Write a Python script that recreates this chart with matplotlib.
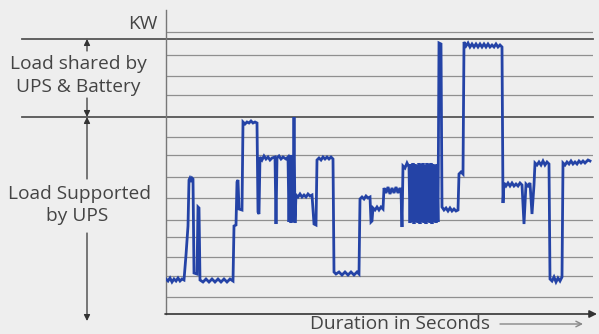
import matplotlib
matplotlib.use("Agg")
import matplotlib.pyplot as plt

# load trace: time (s) vs load (KW, arbitrary units)
t = [0, 2, 4, 6, 8, 10, 12, 14, 16, 18, 20, 22, 23, 24, 25, 26, 27, 28, 31, 32, 33, 34,
     37, 40, 43, 46, 49, 52, 55, 58, 61, 64, 67, 68, 70, 71, 72, 73, 76, 77, 79, 81, 83,
     85, 87, 89, 91, 92, 93, 94, 96, 98, 100, 102, 104, 106, 109, 110, 111, 113, 115, 117,
     120, 122, 123, 124, 125, 126, 127, 128, 129, 130, 132, 134, 136, 138, 140, 142, 144,
     146, 148, 150, 151, 153, 155, 157, 159, 161, 163, 165, 167, 168, 170, 173, 176, 179,
     182, 185, 188, 191, 193, 194, 196, 198, 200, 202, 204, 205, 206, 207, 209, 211, 213,
     215, 217, 218, 220, 222, 224, 226, 228, 230, 232, 234, 235, 236, 237, 239, 241, 243,
     244, 245, 246, 247, 248, 249, 250, 251, 252, 253, 254, 255, 256, 257, 258, 259, 260,
     261, 262, 263, 264, 265, 266, 267, 268, 269, 270, 271, 272,
     273, 275, 276, 278, 280, 282, 284, 286, 288, 290, 292, 293, 295, 297, 298, 300, 302,
     304, 306, 308, 310, 312, 314, 316, 318, 320, 322, 324, 326, 328, 330, 332, 334, 336,
     337, 338, 340, 342, 344, 346, 348, 350, 352, 354, 356, 358, 360, 362, 364, 366, 368,
     369, 371, 373, 375, 377, 379, 381, 383, 384, 386, 388, 390, 392, 394, 396, 397, 399,
     401, 403, 405, 407, 409, 411, 413, 415, 417, 419, 422, 424]
kw = [35, 33, 36, 32, 35, 33, 36, 33, 35, 34, 59, 88, 134, 136, 134, 136, 135, 41, 40, 107, 106, 34,
      32, 35, 32, 35, 32, 35, 32, 35, 32, 35, 33, 88, 89, 132, 134, 105, 104, 192, 190, 192, 191,
      193, 191, 192, 191, 102, 100, 157, 154, 158, 155, 157, 154, 156, 157, 90, 156, 158, 155, 157,
      155, 157, 92, 159, 91, 159, 92, 197, 91, 119, 117, 120, 117, 119, 117, 120, 118,
      119, 90, 89, 154, 156, 154, 157, 155, 157, 155, 157, 155, 42, 40, 42, 39, 42,
      39, 42, 39, 42, 40, 115, 117, 115, 118, 116, 117, 92, 93, 106, 104, 107, 104,
      107, 105, 126, 121, 127, 120, 126, 121, 127, 121, 126, 123, 87, 148, 146, 151, 147,
      91, 150, 92, 151, 90, 150, 92, 149, 91, 151, 90, 150, 92, 151, 91, 149, 90,
      151, 92, 150, 91, 151, 90, 150, 92, 149, 91, 150, 92,
      271, 270, 107, 104, 106, 103, 106, 103, 105, 103, 104, 140, 142, 140, 272, 268, 271,
      267, 270, 267, 270, 267, 270, 267, 270, 267, 270, 267, 269, 267, 270, 267, 269, 267,
      111, 131, 128, 131, 128, 131, 128, 130, 128, 131, 129, 90, 130, 128, 131, 100, 129,
      151, 149, 152, 149, 153, 149, 152, 150, 35, 33, 37, 32, 36, 33, 37, 151, 149,
      152, 150, 153, 150, 152, 150, 153, 151, 153, 151, 154, 153]

grid_levels = [282, 275, 259, 238, 219, 197, 177, 159, 137, 116, 94, 77, 57, 38, 17]
band_edges = [275, 197]   # upper/lower limits of the "shared" band

W, H = 599, 334
fig = plt.figure(figsize=(W / 100, H / 100), dpi=100)
fig.patch.set_facecolor("#eeeeee")
plt.rcParams["font.family"] = ["Open Sans", "DejaVu Sans"]

ax = fig.add_axes([166 / W, 20 / H, 427 / W, 304 / H])
ax.set_facecolor("none")
ax.set_xlim(0, 427)
ax.set_ylim(0, 304)
for s in ["top", "right", "bottom"]:
    ax.spines[s].set_visible(False)
ax.spines["left"].set_color("#777777")
ax.spines["left"].set_linewidth(1.0)
ax.set_xticks([])
ax.set_yticks([])

for lv in grid_levels:
    if lv in band_edges:
        ax.plot([-0.337, 1.0], [lv, lv], transform=ax.get_yaxis_transform(),
                color="#555555", lw=1.3, clip_on=False, zorder=1)
    else:
        ax.axhline(lv, color="#8f8f8f", lw=0.9, zorder=1)

ax.plot(t, kw, color="#2443a6", lw=2.0, zorder=3, solid_joinstyle="miter")

# overlay for labels and arrows
deco = fig.add_axes([0, 0, 1, 1])
deco.set_xlim(0, W)
deco.set_ylim(H, 0)
deco.axis("off")
deco.patch.set_alpha(0)

fs = 13.8
txt = dict(color="#444444", fontsize=fs, ha="center", va="center")
deco.text(157, 24, "KW", color="#444444", fontsize=fs, ha="right", va="center")
deco.text(78, 64, "Load shared by", **txt)
deco.text(78, 87, "UPS & Battery", **txt)
deco.text(79, 194, "Load Supported", **txt)
deco.text(77, 216, "by UPS", **txt)
deco.text(310, 324, "Duration in Seconds", color="#444444", fontsize=fs,
          ha="left", va="center")

head = dict(arrowstyle="-|>", color="#333333", lw=0.9, mutation_scale=9,
            shrinkA=0, shrinkB=0)
deco.annotate("", xy=(87, 39), xytext=(87, 51), arrowprops=head)
deco.annotate("", xy=(87, 117), xytext=(87, 98), arrowprops=head)
deco.annotate("", xy=(87, 117), xytext=(87, 179), arrowprops=head)
deco.annotate("", xy=(87, 321), xytext=(87, 233), arrowprops=head)

deco.annotate("", xy=(597, 314), xytext=(165, 314),
              arrowprops=dict(arrowstyle="-|>", color="#333333", lw=1.2,
                              mutation_scale=11, shrinkA=0, shrinkB=0))
deco.annotate("", xy=(583, 324), xytext=(500, 324),
              arrowprops=dict(arrowstyle="->", color="#888888", lw=1.0,
                              mutation_scale=10, shrinkA=0, shrinkB=0))

fig.savefig("out.png", dpi=100, facecolor=fig.get_facecolor())
